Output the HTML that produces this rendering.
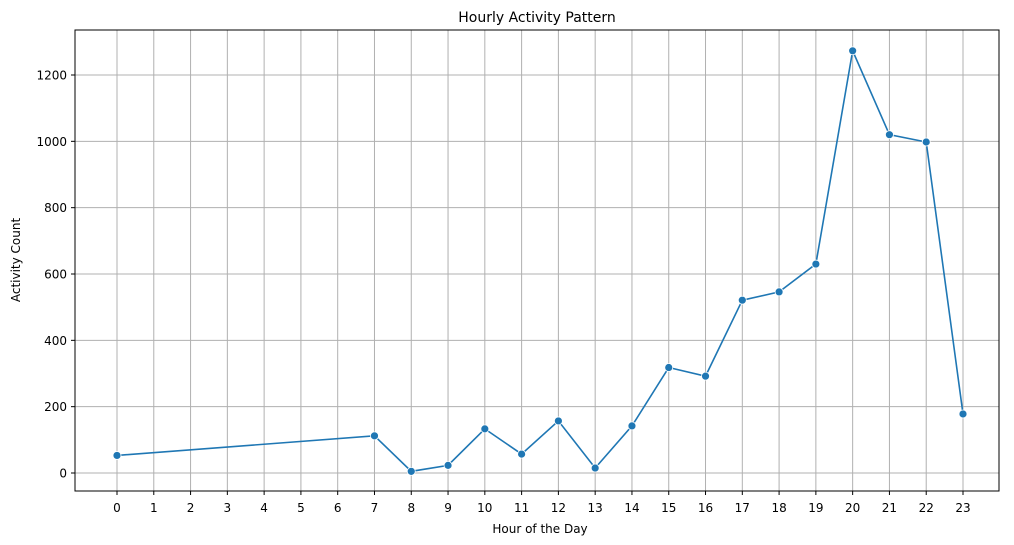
<!DOCTYPE html>
<html><head><meta charset="utf-8"><style>
body{margin:0;background:#fff;}
svg{display:block;font-family:"DejaVu Sans","Liberation Sans",sans-serif;}
</style></head><body>
<svg id="chart" width="1014" height="545" viewBox="0 0 1014 545">
<rect x="0" y="0" width="1014" height="545" fill="#fff"/>
<text x="537" y="22" text-anchor="middle" font-size="14" fill="#000">Hourly Activity Pattern</text>
<g id="grid"></g>
<g id="ticks"></g>
<rect x="75" y="30" width="924" height="461" fill="none" stroke="#000" stroke-width="1"/>
<g id="series"></g>
<text x="540" y="533" text-anchor="middle" font-size="12">Hour of the Day</text>
<text x="20" y="260" text-anchor="middle" font-size="12" transform="rotate(-90 20 260)">Activity Count</text>
</svg>
<script>
const hours = [0,7,8,9,10,11,12,13,14,15,16,17,18,19,20,21,22,23];
const counts = [53,112,5,23,133,57,157,15,142,318,292,521,546,630,1273,1020,998,178];
const xTicks = [0,1,2,3,4,5,6,7,8,9,10,11,12,13,14,15,16,17,18,19,20,21,22,23];
const yTicks = [0,200,400,600,800,1000,1200];

const NS="http://www.w3.org/2000/svg";
function xs(h){return 117+h*(963-117)/23;}
function ys(v){return 473-v*(473-75)/1200;}
function mk(tag,attrs,parent){const e=document.createElementNS(NS,tag);for(const k in attrs)e.setAttribute(k,attrs[k]);parent.appendChild(e);return e;}
const grid=document.getElementById('grid'),ticks=document.getElementById('ticks'),series=document.getElementById('series');
xTicks.forEach(h=>{
  const x=xs(h);
  const g=mk('line',{x1:x,x2:x,y1:30,y2:491,stroke:'#b0b0b0','stroke-width':1},grid);
  
  
  const t=mk('line',{x1:x,x2:x,y1:491,y2:495,stroke:'#000'},ticks);
  
  
  const l=mk('text',{x:x,y:512,'text-anchor':'middle','font-size':12},ticks);
  l.textContent=h;
  
  
});
yTicks.forEach(v=>{
  const y=ys(v);
  const g=mk('line',{x1:75,x2:999,y1:y,y2:y,stroke:'#b0b0b0','stroke-width':1},grid);
  
  
  const t=mk('line',{x1:71,x2:75,y1:y,y2:y,stroke:'#000'},ticks);
  
  
  const l=mk('text',{x:67,y:y+4.5,'text-anchor':'end','font-size':12},ticks);
  l.textContent=v;
  
  
});
const pts=hours.map((h,i)=>xs(h)+','+ys(counts[i])).join(' ');
const pl=mk('polyline',{points:pts,fill:'none',stroke:'#1f77b4','stroke-width':1.6},series);


hours.forEach((h,i)=>{
  const c=mk('circle',{cx:xs(h),cy:ys(counts[i]),r:4,fill:'#1f77b4',stroke:'#fff','stroke-width':0.8},series);
  
  
});
</script>
</body></html>
